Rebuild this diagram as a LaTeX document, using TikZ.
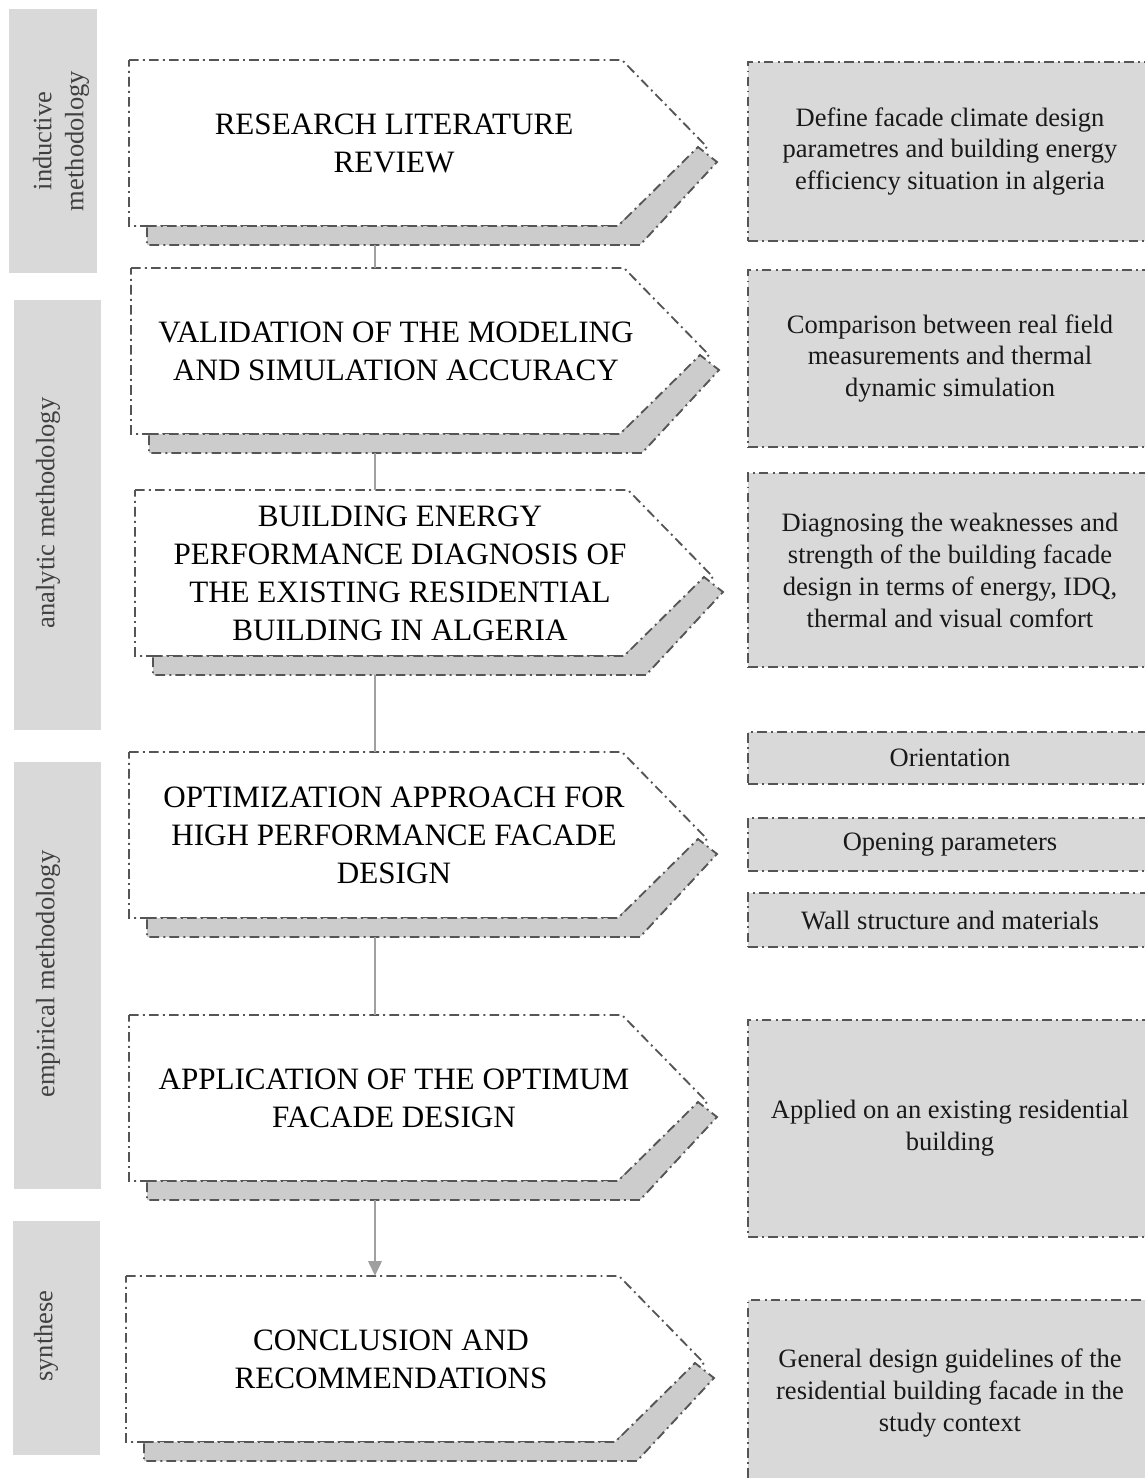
\documentclass[tikz,border=0pt]{standalone}
\usepackage{fontspec}
\setmainfont{Liberation Serif}
\usetikzlibrary{arrows.meta,calc}

\definecolor{barfill}{HTML}{D9D9D9}
\definecolor{shadefill}{HTML}{CCCCCC}
\definecolor{edgegray}{HTML}{555555}
\definecolor{linkgray}{HTML}{A0A0A0}

% chevron box with its grey shadow: name, left, top, text
\newcommand{\facadestep}[4]{%
  \draw[stepedge,fill=white] (#2,#3) -- (#2+493,#3) -- (#2+578,#3+87)
    -- (#2+489,#3+166) -- (#2,#3+166) -- cycle;
  \draw[stepedge,fill=shadefill] (#2+18,#3+166) -- (#2+489,#3+166) -- (#2+569,#3+87)
    -- (#2+588,#3+102) -- (#2+511,#3+185) -- (#2+18,#3+185) -- cycle;
  \node[steptext] (#1) at (#2+265,#3+83) {#4};
  \coordinate (#1-n) at (375,#3);
  \coordinate (#1-s) at (375,#3+185);
}

\begin{document}
\begin{tikzpicture}[x=0.02cm,y=-0.02cm,
    stepedge/.style={draw=edgegray,line width=1.05pt,dash pattern=on 5.5pt off 2.4pt on 1.1pt off 2.4pt},
    steptext/.style={align=center,inner sep=0pt,font=\fontsize{17.7}{21.6}\selectfont},
    infobox/.style={stepedge,fill=barfill,minimum width=8.08cm,inner sep=0pt,align=center,
      text=black!90,font=\fontsize{15.1}{18.2}\selectfont},
    bartext/.style={rotate=90,align=center,inner sep=0pt,text=black!75,font=\fontsize{15.1}{18.2}\selectfont},
    link/.style={draw=linkgray,line width=1.7pt}]
  \clip (0,0) rectangle (1145,1478);

  % methodology bars
  \fill[barfill] (9,9) rectangle (97,273);
  \fill[barfill] (14,300) rectangle (101,730);
  \fill[barfill] (14,762) rectangle (101,1189);
  \fill[barfill] (13,1221) rectangle (100,1455);
  \node[bartext] (ind) at (61,141) {inductive\\methodology};
  \node[bartext] (ana) at (48,513) {analytic methodology};
  \node[bartext] (emp) at (48,974) {empirical methodology};
  \node[bartext] (syn) at (46,1336) {synthese};

  % main steps
  \facadestep{lit}{129}{60}{RESEARCH LITERATURE\\REVIEW}
  \facadestep{valid}{131}{268}{VALIDATION OF THE MODELING\\AND SIMULATION ACCURACY}
  \facadestep{diag}{135}{490}{BUILDING ENERGY\\PERFORMANCE DIAGNOSIS OF\\THE EXISTING RESIDENTIAL\\BUILDING IN ALGERIA}
  \facadestep{optim}{129}{752}{OPTIMIZATION APPROACH FOR\\HIGH PERFORMANCE FACADE\\DESIGN}
  \facadestep{appl}{129}{1015}{APPLICATION OF THE OPTIMUM\\FACADE DESIGN}
  \facadestep{concl}{126}{1276}{CONCLUSION AND\\RECOMMENDATIONS}

  \draw[link] (lit-s) -- (valid-n);
  \draw[link] (valid-s) -- (diag-n);
  \draw[link] (diag-s) -- (optim-n);
  \draw[link] (optim-s) -- (appl-n);
  \draw[link,-{Triangle[length=8.5pt,width=7.5pt]}] (appl-s) -- (concl-n);

  % outcomes
  \node[infobox,minimum height=3.58cm] (def) at (950,151.5)
    {Define facade climate design\\parametres and building energy\\efficiency situation in algeria};
  \node[infobox,minimum height=3.54cm] (comp) at (950,358.5)
    {Comparison between real field\\measurements and thermal\\dynamic simulation};
  \node[infobox,minimum height=3.88cm] (weak) at (950,570)
    {Diagnosing the weaknesses and\\strength of the building facade\\design in terms of energy, IDQ,\\thermal and visual comfort};
  \node[infobox,minimum height=1.04cm] (orient) at (950,758) {Orientation};
  \node[infobox,minimum height=1.06cm] (open) at (950,844.5) {Opening parameters};
  \node[infobox,minimum height=1.08cm] (wall) at (950,920) {Wall structure and materials};
  \node[infobox,minimum height=4.34cm] (apply) at (950,1128.5)
    {Applied on an existing residential\\building};
  \node[infobox,minimum height=3.72cm] (guide) at (950,1393)
    {General design guidelines of the\\residential building facade in the\\study context};
\end{tikzpicture}
\end{document}
